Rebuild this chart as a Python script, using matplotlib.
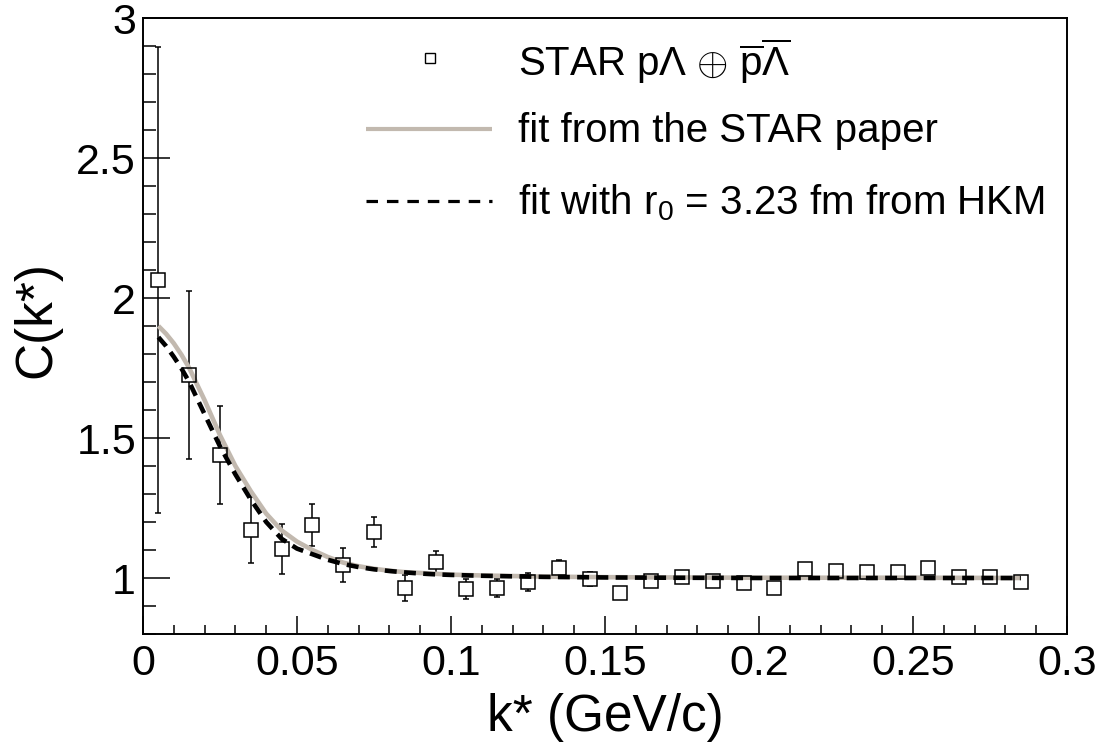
import matplotlib
matplotlib.use("Agg")
import matplotlib.pyplot as plt
from matplotlib.ticker import MultipleLocator, FuncFormatter

plt.rcParams['font.family'] = ['Liberation Sans', 'DejaVu Sans']
plt.rcParams['mathtext.fontset'] = 'custom'
plt.rcParams['mathtext.rm'] = 'Liberation Sans'
plt.rcParams['mathtext.it'] = 'Liberation Sans:italic'
plt.rcParams['mathtext.bf'] = 'Liberation Sans:bold'

# ---- data ----
k_data = [0.005, 0.015, 0.025, 0.035, 0.045, 0.055, 0.065, 0.075, 0.085, 0.095,
          0.105, 0.115, 0.125, 0.135, 0.145, 0.155, 0.165, 0.175, 0.185, 0.195,
          0.205, 0.215, 0.225, 0.235, 0.245, 0.255, 0.265, 0.275, 0.285]
c_data = [2.064, 1.725, 1.439, 1.171, 1.104, 1.190, 1.046, 1.164, 0.964, 1.057,
          0.961, 0.964, 0.986, 1.036, 0.996, 0.946, 0.990, 1.004, 0.989, 0.982,
          0.964, 1.032, 1.025, 1.021, 1.021, 1.036, 1.004, 1.004, 0.986]
c_err = [0.832, 0.300, 0.175, 0.118, 0.090, 0.075, 0.060, 0.054, 0.047, 0.039,
         0.036, 0.032, 0.031, 0.028, 0.025, 0.022, 0.021, 0.020, 0.018, 0.018,
         0.017, 0.016, 0.016, 0.015, 0.015, 0.015, 0.015, 0.015, 0.015]

k_fit = [0.005, 0.0075, 0.010, 0.0125, 0.015, 0.020, 0.025, 0.030, 0.035, 0.040,
         0.045, 0.050, 0.055, 0.060, 0.065, 0.070, 0.075, 0.080, 0.085, 0.090,
         0.095, 0.100, 0.110, 0.120, 0.130, 0.140, 0.150, 0.170, 0.200, 0.250,
         0.285]
c_fit_star = [1.900, 1.872, 1.838, 1.797, 1.750, 1.635, 1.510, 1.400, 1.310, 1.230,
              1.170, 1.130, 1.100, 1.075, 1.055, 1.042, 1.033, 1.026, 1.021, 1.018,
              1.015, 1.012, 1.009, 1.007, 1.005, 1.004, 1.003, 1.002, 1.001, 1.001,
              1.000]
c_fit_hkm = [1.860, 1.828, 1.790, 1.748, 1.700, 1.585, 1.470, 1.370, 1.280, 1.200,
             1.140, 1.105, 1.085, 1.065, 1.050, 1.039, 1.031, 1.025, 1.020, 1.016,
             1.013, 1.011, 1.008, 1.006, 1.004, 1.003, 1.002, 1.001, 1.000, 1.000,
             1.000]

x_ticks = [0, 0.05, 0.1, 0.15, 0.2, 0.25, 0.3]
y_ticks = [1, 1.5, 2, 2.5, 3]

label_data = r"STAR p$\Lambda$ $\oplus$ $\overline{\mathrm{p}}\overline{\Lambda}$"
label_star = "fit from the STAR paper"
label_hkm = r"fit with r$_{0}$ = 3.23 fm from HKM"

star_color = '#c2b9af'

W, H = 1107, 744
fig = plt.figure(figsize=(W / 100, H / 100), dpi=100)
x0, x1, ytop, ybot = 143, 1067, 18, 634
ax = fig.add_axes([x0 / W, (H - ybot) / H, (x1 - x0) / W, (ybot - ytop) / H])

# error bars
ax.errorbar(k_data, c_data, yerr=c_err, fmt='none', ecolor='black',
            elinewidth=1.1, capsize=2.3, capthick=1.1, zorder=2)
# white fill to hide error bar inside marker
ax.plot(k_data, c_data, ls='none', marker='s', ms=9.6, mfc='white',
        mec='white', mew=0, zorder=3)
# fits
ax.plot(k_fit, c_fit_star, color=star_color, lw=3.3, zorder=4,
        solid_capstyle='butt')
ax.plot(k_fit, c_fit_hkm, color='black', lw=3.3, dashes=(2.6, 1.6), zorder=5)
# hollow markers
ax.plot(k_data, c_data, ls='none', marker='s', ms=9.6, mfc='none',
        mec='black', mew=1.1, zorder=6)

ax.set_xlim(0, 0.3)
ax.set_ylim(0.8, 3.0)
ax.set_xticks(x_ticks)
ax.set_yticks(y_ticks)
ax.xaxis.set_minor_locator(MultipleLocator(0.01))
ax.yaxis.set_minor_locator(MultipleLocator(0.1))
fmt = FuncFormatter(lambda v, p: ('%g' % round(v, 4)))
ax.xaxis.set_major_formatter(fmt)
ax.yaxis.set_major_formatter(fmt)

ax.tick_params(axis='both', which='both', direction='in', top=False, right=False,
               width=1.1, colors='black')
ax.tick_params(axis='x', which='major', length=13, pad=7, labelsize=31)
ax.tick_params(axis='x', which='minor', length=6.5)
ax.tick_params(axis='y', which='major', length=19.5, pad=5, labelsize=31)
ax.tick_params(axis='y', which='minor', length=9.5)
for s in ax.spines.values():
    s.set_linewidth(1.4)

ax.set_xlabel("k* (GeV/c)", fontsize=37, va='center')
ax.xaxis.set_label_coords(0.5, (ybot - 718) / (ybot - ytop))
ax.set_ylabel("C(k*)", fontsize=37, va='center', ha='center')
ax.yaxis.set_label_coords((37 - x0) / (x1 - x0), (ybot - 320) / (ybot - ytop))

# legend (manual layout, axes coordinates)
def fx(px):
    return (px - x0) / (x1 - x0)

def fy(py):
    return (ybot - py) / (ybot - ytop)

tr = ax.transAxes
ax.plot([fx(430)], [fy(58)], transform=tr, ls='none', marker='s', ms=7.5,
        mfc='none', mec='black', mew=1.0, clip_on=False)
ax.plot([fx(366), fx(492)], [fy(129), fy(129)], transform=tr, color=star_color,
        lw=3.0, clip_on=False, solid_capstyle='butt')
ax.plot([fx(366), fx(492)], [fy(201), fy(201)], transform=tr, color='black',
        lw=2.3, dashes=(3.6, 2.8), clip_on=False)
tx = fx(518)
ax.text(tx, fy(61), label_data, transform=tr, fontsize=29, va='center', ha='left')
ax.text(tx, fy(131), label_star, transform=tr, fontsize=29, va='center', ha='left')
ax.text(tx, fy(203), label_hkm, transform=tr, fontsize=29, va='center', ha='left')

fig.savefig("out.png", dpi=100)
